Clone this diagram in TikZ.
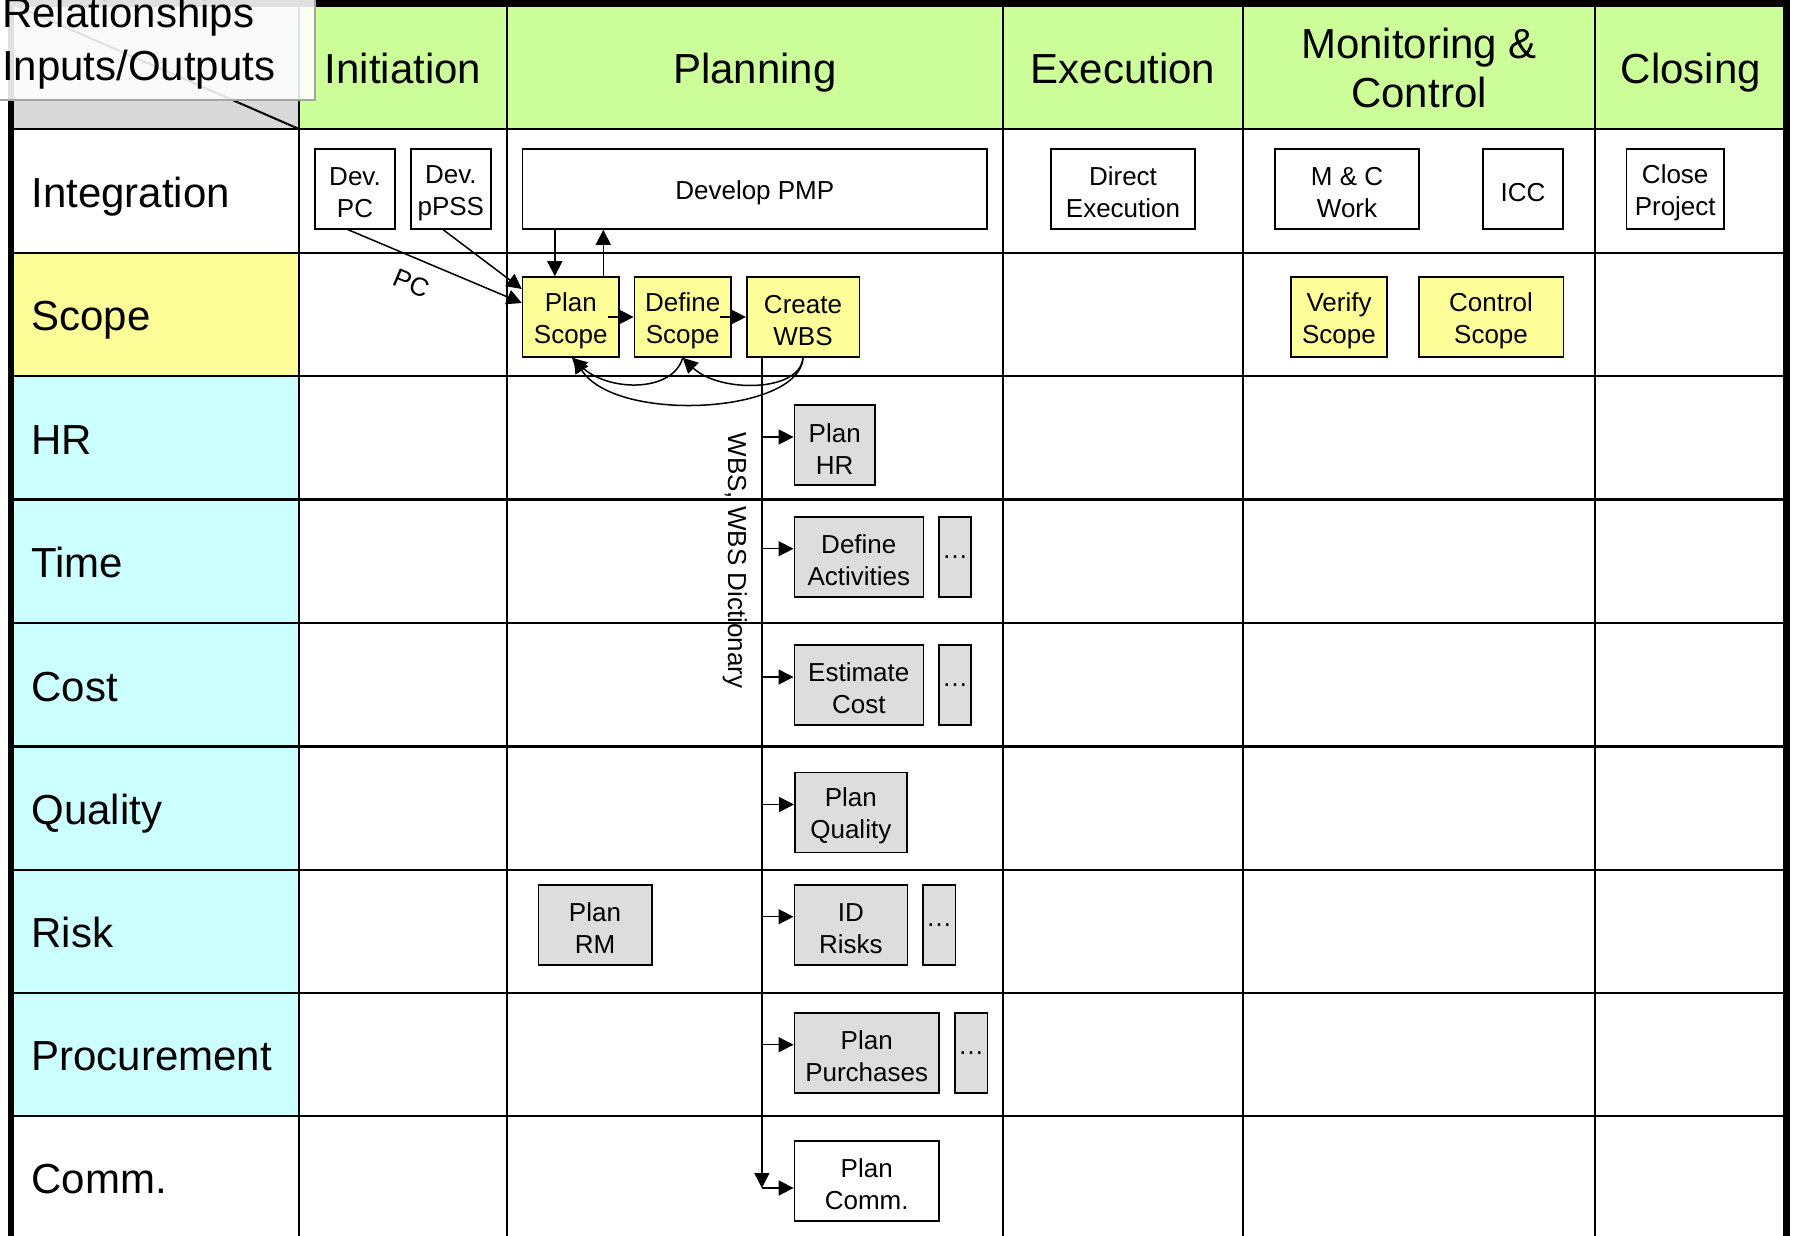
\documentclass[tikz,border=0pt]{standalone}
\usepackage{fontspec}
\setmainfont{Liberation Sans}
\usetikzlibrary{arrows.meta,calc}
\definecolor{hdrgreen}{RGB}{204,255,153}
\definecolor{scopey}{RGB}{255,255,153}
\definecolor{areacyan}{RGB}{204,255,255}
\definecolor{boxgray}{RGB}{221,221,221}
\definecolor{cornergray}{RGB}{217,217,217}
\definecolor{labelborder}{RGB}{165,165,165}
\newcommand{\myupstrut}{\rule{0pt}{13pt}}
\begin{document}
\begin{tikzpicture}[x=0.5pt,y=-0.5pt,
  hdr/.style={font=\fontsize{21}{24}\selectfont, inner sep=0pt, anchor=base},
  rowlbl/.style={font=\fontsize{21}{24}\selectfont, inner sep=0pt, anchor=base west},
  proc/.style={draw=black, line width=0.8pt, align=center, inner sep=0pt, font=\fontsize{13}{16}\selectfont, minimum height=40pt},
  pwhite/.style={proc, fill=white},
  pyellow/.style={proc, fill=scopey},
  pgray/.style={proc, fill=boxgray},
  arr/.style={line width=0.75pt, -{Triangle[length=7.5pt,width=7.5pt]}},
  gridline/.style={line width=1.1pt, black},
  smalltxt/.style={font=\fontsize{13}{16}\selectfont, inner sep=0pt},
]
\useasboundingbox (0,0) rectangle (1793,1236);

% ---- fills
\fill[hdrgreen] (299,3.5) rectangle (1786.7,129);
\fill[cornergray] (10.8,3.5) rectangle (299,129);
\fill[scopey] (10.8,253) rectangle (299,376);
\fill[areacyan] (10.8,376) rectangle (299,1116);

% ---- grid
\foreach \yy in {129,253,376,499.5,623,746.5,870,993,1116}
  \draw[gridline] (10.8,\yy) -- (1786.7,\yy);
\foreach \xx in {299,507,1003,1243,1595}
  \draw[gridline] (\xx,3.5) -- (\xx,1240);
\draw[line width=1pt] (10.8,3.5) -- (299,129);
\draw[line width=3.3pt] (10.8,1240) -- (10.8,3.5) -- (1786.7,3.5) -- (1786.7,1240);

% ---- header texts
\node[hdr] (hInit) at (403,84) {Initiation};
\node[hdr] (hPlan) at (755,84) {Planning};
\node[hdr] (hExec) at (1123,84) {Execution};
\node[hdr] (hMon1) at (1419,59) {Monitoring \&};
\node[hdr] (hMon2) at (1419,107.5) {Control};
\node[hdr] (hClose) at (1691,84) {Closing};

% ---- row labels
\node[rowlbl] (rInt) at (31,207) {Integration};
\node[rowlbl] (rScope) at (31,330.5) {Scope};
\node[rowlbl] (rHR) at (31,454) {HR};
\node[rowlbl] (rTime) at (31,577.5) {Time};
\node[rowlbl] (rCost) at (31,701) {Cost};
\node[rowlbl] (rQual) at (31,824.5) {Quality};
\node[rowlbl] (rRisk) at (31,947.5) {Risk};
\node[rowlbl] (rProc) at (31,1070.5) {Procurement};
\node[rowlbl] (rComm) at (31,1193.5) {Comm.};

% ---- process boxes
\node[pwhite, minimum width=40pt] (devPC) at (355,189) {\myupstrut Dev.\\PC};
\node[pwhite, minimum width=40pt] (devPSS) at (450.8,189) {\myupstrut Dev.\\pPSS};
\node[pwhite, minimum width=232.2pt] (pmp) at (754.8,189) {\myupstrut Develop PMP};
\node[pwhite, minimum width=72pt] (direx) at (1123,189) {\myupstrut Direct\\Execution};
\node[pwhite, minimum width=72pt] (mcw) at (1347,189) {\myupstrut M \& C\\Work};
\node[pwhite, minimum width=40pt] (icc) at (1523,189) {\myupstrut ICC};
\node[pwhite, minimum width=48.6pt] (closeP) at (1675.2,189) {\myupstrut Close\\Project};

\node[pyellow, minimum width=48.2pt] (planScope) at (570.8,317) {\myupstrut Plan\\Scope};
\node[pyellow, minimum width=48.3pt] (defineScope) at (682.7,317) {\myupstrut Define\\Scope};
\node[pyellow, minimum width=56.3pt] (createWBS) at (803,317) {\myupstrut Create\\WBS};
\node[pyellow, minimum width=48.2pt] (verifyScope) at (1339,317) {\myupstrut Verify\\Scope};
\node[pyellow, minimum width=72.3pt] (controlScope) at (1491,317) {\myupstrut Control\\Scope};

\node[pgray, minimum width=40.3pt] (planHR) at (834.7,445) {\myupstrut Plan\\HR};
\node[pgray, minimum width=64.5pt] (defAct) at (858.8,556.7) {\myupstrut Define\\Activities};
\node[pgray, minimum width=16pt] (dotsT) at (955,556.7) {\dots};
\node[pgray, minimum width=64.5pt] (estCost) at (858.8,685) {\myupstrut Estimate\\Cost};
\node[pgray, minimum width=16pt] (dotsC) at (955,685) {\dots};
\node[pgray, minimum width=56pt] (planQual) at (850.8,812.5) {\myupstrut Plan\\Quality};
\node[pgray, minimum width=56.7pt] (planRM) at (595,924.7) {\myupstrut Plan\\RM};
\node[pgray, minimum width=56.5pt] (idRisks) at (850.8,924.7) {\myupstrut ID\\Risks};
\node[pgray, minimum width=16.3pt] (dotsR) at (939,924.7) {\dots};
\node[pgray, minimum width=72.3pt] (planPur) at (866.7,1052.7) {\myupstrut Plan\\Purchases};
\node[pgray, minimum width=16.3pt] (dotsP) at (971,1052.7) {\dots};
\node[pwhite, minimum width=72.3pt] (planComm) at (866.7,1181) {\myupstrut Plan\\Comm.};

% ---- connectors in Integration / Scope
\coordinate (dA) at ([xshift=-8pt]planScope.north);
\coordinate (uA) at ([xshift=16.25pt]planScope.north);
\draw[arr] (dA |- pmp.south) -- (dA);
\draw[arr] (uA) -- (uA |- pmp.south);
\draw[arr] ([xshift=-3.35pt]devPC.south) -- node[pos=0.42, sloped, below=7.5pt, smalltxt] {PC} ([yshift=7pt]planScope.west);
\draw[arr] ([xshift=-3.75pt]devPSS.south) -- ([yshift=14pt]planScope.west);
\draw[arr] ([xshift=-6pt]planScope.east) -- (defineScope.west);
\draw[arr] ([xshift=-6pt]defineScope.east) -- (createWBS.west);

\draw[arr] (defineScope.south) .. controls ($(defineScope.south)+(-10,35)$) and ($(planScope.south)+(38,34)$) .. ([xshift=0.5pt]planScope.south);
\draw[arr] (createWBS.south) .. controls ($(createWBS.south)+(-3,35)$) and ($(defineScope.south)+(36,35)$) .. (defineScope.south);
\draw[arr] (createWBS.south) .. controls ($(createWBS.south)+(-3,56)$) and ($(planScope.south)+(45,66)$) .. ([xshift=1.5pt]planScope.south);

% ---- WBS distribution line
\coordinate (vtop) at ([xshift=8pt]createWBS.south west);
\coordinate (commIn) at ([yshift=-3.5pt]planComm.west);
\coordinate (vbot) at (vtop |- commIn);
\draw[arr] (vtop) -- (vbot);
\draw[arr] (vbot) -- (commIn);
\node[smalltxt, rotate=-90] (wbsLbl) at ($(vtop)!0.244!(vbot)+(-27,0)$) {WBS, WBS Dictionary};

\foreach \b in {planHR,defAct,estCost,planQual,idRisks,planPur}{
  \coordinate (in-\b) at ([yshift=4pt]\b.west);
  \draw[arr] (vtop |- in-\b) -- (in-\b);
}

% ---- corner label box
\fill[white, fill opacity=0.88] (-6,-6) rectangle (315,100);
\draw[labelborder, line width=1pt] (-6,-6) rectangle (315,100);
\node[rowlbl] (rel1) at (1.7,28) {Relationships};
\node[rowlbl] (rel2) at (1.7,81) {Inputs/Outputs};
\end{tikzpicture}
\end{document}
